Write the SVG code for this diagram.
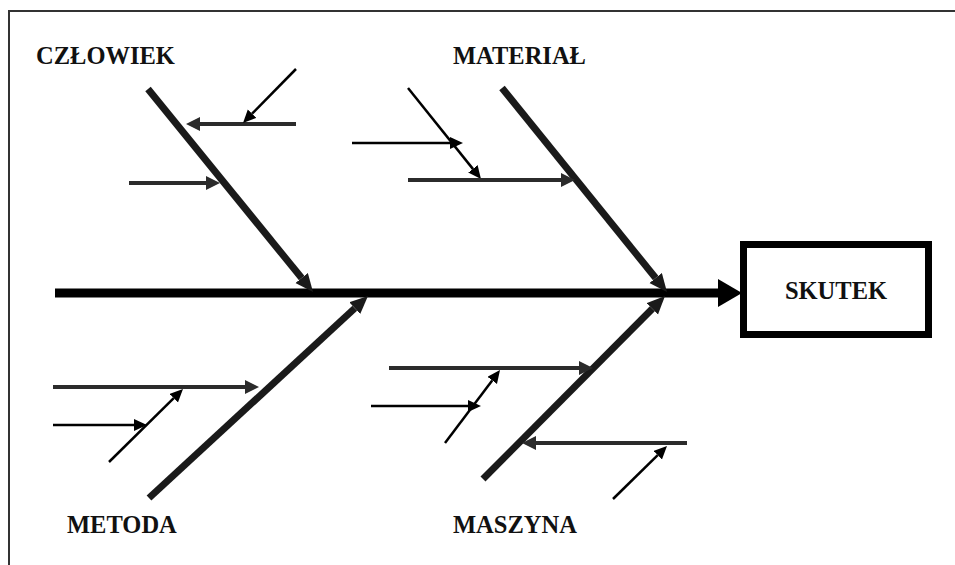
<svg xmlns="http://www.w3.org/2000/svg" width="955" height="565" viewBox="0 0 955 565">
  <defs>
    <style>
      .label { font-family: "Liberation Serif", "Times New Roman", serif; font-weight: bold; font-size: 24.5px; fill: #111; }
      .spine { stroke: #000; stroke-width: 9; fill: none; }
      .bone { stroke: #1a1a1a; stroke-width: 7; fill: none; }
      .sub { stroke: #2b2b2b; stroke-width: 4; fill: none; }
      .thin { stroke: #000; stroke-width: 2.5; fill: none; }
      .frame { stroke: #333; stroke-width: 2; fill: none; }
    </style>
    <!-- arrowheads: base at the reference point, tip ahead of it -->
    <marker id="headSpine" markerUnits="userSpaceOnUse" markerWidth="26" markerHeight="30" refX="0" refY="14" orient="auto">
      <path d="M0,0 L24,14 L0,28 Z" fill="#000"/>
    </marker>
    <marker id="headBone" markerUnits="userSpaceOnUse" markerWidth="20" markerHeight="18" refX="0" refY="8" orient="auto">
      <path d="M0,0 L18,8 L0,16 Z" fill="#1a1a1a"/>
    </marker>
    <marker id="headSub" markerUnits="userSpaceOnUse" markerWidth="16" markerHeight="16" refX="0" refY="7" orient="auto">
      <path d="M0,0 L14,7 L0,14 Z" fill="#2b2b2b"/>
    </marker>
    <marker id="headThin" markerUnits="userSpaceOnUse" markerWidth="15" markerHeight="14" refX="0" refY="6" orient="auto">
      <path d="M0,0 L13,6 L0,12 Z" fill="#000"/>
    </marker>
  </defs>

  <rect width="955" height="565" fill="#fff"/>

  <!-- page frame (top and left edges) -->
  <path class="frame" d="M955,11 L9,11 L9,565"/>

  <!-- category labels and effect box -->
  <g id="czlowiek"><text class="label" x="36" y="64">CZŁOWIEK</text></g>
  <g id="material"><text class="label" x="453" y="64">MATERIAŁ</text></g>
  <g id="metoda"><text class="label" x="67" y="533">METODA</text></g>
  <g id="maszyna"><text class="label" x="453" y="533">MASZYNA</text></g>
  <g id="skutek">
    <rect x="743.5" y="244.5" width="185" height="90" fill="#fff" stroke="#000" stroke-width="7"/>
    <text class="label" x="836" y="299" text-anchor="middle">SKUTEK</text>
  </g>

  <g id="connectors">
    <!-- main spine -->
    <line class="spine" x1="55" y1="293" x2="718" y2="293" marker-end="url(#headSpine)"/>

    <!-- main bones -->
    <line class="bone" x1="148" y1="89" x2="301.65" y2="278.03" marker-end="url(#headBone)"/>
    <line class="bone" x1="502" y1="88" x2="655.65" y2="278.0" marker-end="url(#headBone)"/>
    <line class="bone" x1="149" y1="498" x2="354.77" y2="308.21" marker-end="url(#headBone)"/>
    <line class="bone" x1="483" y1="479" x2="652.31" y2="308.76" marker-end="url(#headBone)"/>

    <!-- CZŁOWIEK causes -->
    <line class="sub" x1="296" y1="124" x2="200" y2="124" marker-end="url(#headSub)"/>
    <line class="sub" x1="129" y1="183" x2="206" y2="183" marker-end="url(#headSub)"/>
    <line class="thin" x1="296" y1="69" x2="252.1" y2="113.7" marker-end="url(#headThin)"/>

    <!-- MATERIAŁ causes -->
    <line class="thin" x1="352" y1="143" x2="450" y2="143" marker-end="url(#headThin)"/>
    <line class="thin" x1="408" y1="88" x2="472.87" y2="168.86" marker-end="url(#headThin)"/>
    <line class="sub" x1="408" y1="180" x2="561" y2="180" marker-end="url(#headSub)"/>

    <!-- METODA causes -->
    <line class="sub" x1="53" y1="387" x2="245" y2="387" marker-end="url(#headSub)"/>
    <line class="thin" x1="53" y1="425" x2="134" y2="425" marker-end="url(#headThin)"/>
    <line class="thin" x1="109" y1="462" x2="173.74" y2="398.13" marker-end="url(#headThin)"/>

    <!-- MASZYNA causes -->
    <line class="sub" x1="389" y1="368" x2="579" y2="368" marker-end="url(#headSub)"/>
    <line class="thin" x1="371" y1="406" x2="468" y2="406" marker-end="url(#headThin)"/>
    <line class="thin" x1="445" y1="443" x2="492.18" y2="380.38" marker-end="url(#headThin)"/>
    <line class="sub" x1="687" y1="443" x2="536" y2="443" marker-end="url(#headSub)"/>
    <line class="thin" x1="613" y1="499" x2="657.72" y2="455.1" marker-end="url(#headThin)"/>
  </g>
</svg>
